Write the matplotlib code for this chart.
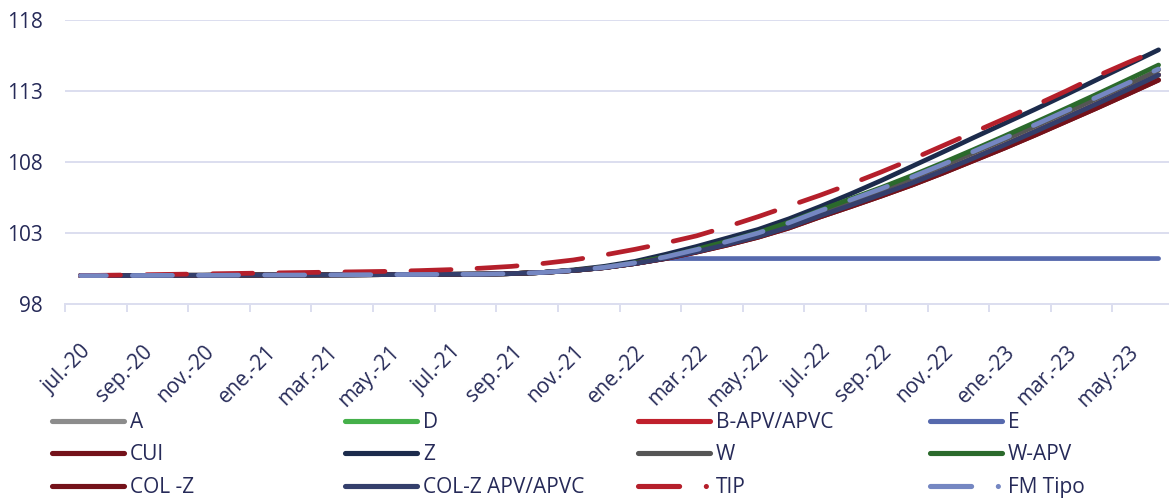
import numpy as np
import matplotlib
matplotlib.use("Agg")
import matplotlib.pyplot as plt

plt.rcParams['font.family'] = ['Open Sans', 'DejaVu Sans']

# monthly categories jul-20 .. jun-23
months = ['jul.-20', 'ago.-20', 'sep.-20', 'oct.-20', 'nov.-20', 'dic.-20',
          'ene.-21', 'feb.-21', 'mar.-21', 'abr.-21', 'may.-21', 'jun.-21',
          'jul.-21', 'ago.-21', 'sep.-21', 'oct.-21', 'nov.-21', 'dic.-21',
          'ene.-22', 'feb.-22', 'mar.-22', 'abr.-22', 'may.-22', 'jun.-22',
          'jul.-22', 'ago.-22', 'sep.-22', 'oct.-22', 'nov.-22', 'dic.-22',
          'ene.-23', 'feb.-23', 'mar.-23', 'abr.-23', 'may.-23', 'jun.-23']

early = [100.0, 100.0, 100.01, 100.02, 100.02, 100.03, 100.04, 100.04, 100.05,
         100.06, 100.07, 100.08, 100.09, 100.1, 100.14, 100.22]

colz_apv = early + [100.36, 100.56, 100.85, 101.22, 101.68, 102.2, 102.75, 103.42,
                    104.2, 104.95, 105.72, 106.52, 107.38, 108.28, 109.2, 110.15,
                    111.12, 112.1, 113.1, 114.13]
fm_tipo = early + [100.37, 100.58, 100.9, 101.32, 101.83, 102.4, 103.0, 103.72,
                   104.55, 105.33, 106.12, 106.95, 107.83, 108.75, 109.68, 110.63,
                   111.6, 112.57, 113.56, 114.55]
w_apv = early + [100.37, 100.58, 100.9, 101.32, 101.85, 102.42, 103.03, 103.76,
                 104.6, 105.4, 106.2, 107.05, 107.95, 108.88, 109.83, 110.8,
                 111.78, 112.78, 113.8, 114.83]
w = early + [100.36, 100.57, 100.88, 101.3, 101.8, 102.36, 102.95, 103.65,
             104.47, 105.25, 106.04, 106.86, 107.73, 108.65, 109.57, 110.52,
             111.49, 112.47, 113.46, 114.48]
cui = early + [100.36, 100.56, 100.85, 101.2, 101.65, 102.15, 102.7, 103.35,
               104.12, 104.85, 105.6, 106.38, 107.22, 108.1, 108.98, 109.9,
               110.85, 111.8, 112.78, 113.77]
col_z = cui
z = early + [100.4, 100.65, 101.0, 101.5, 102.05, 102.65, 103.25, 104.0,
             104.85, 105.75, 106.7, 107.7, 108.7, 109.72, 110.72, 111.72,
             112.75, 113.8, 114.85, 115.9]
tip = [100.0, 100.03, 100.06, 100.09, 100.12, 100.15, 100.18, 100.21, 100.24,
       100.27, 100.3, 100.35, 100.42, 100.52, 100.65, 100.85, 101.1, 101.45,
       101.85, 102.3, 102.8, 103.45, 104.15, 104.9, 105.65, 106.45, 107.3,
       108.2, 109.15, 110.1, 111.05, 112.0, 113.0, 114.05, 115.0, 115.9]
e = early + [100.36, 100.56, 100.85] + [101.2] * 17
a = colz_apv
d = colz_apv
b_apv = colz_apv

series = [
    ('A', a, '#8c8c8c', 'solid'),
    ('D', d, '#45b04a', 'solid'),
    ('B-APV/APVC', b_apv, '#c0202c', 'solid'),
    ('E', e, '#5669ad', 'solid'),
    ('CUI', cui, '#74121a', 'solid'),
    ('Z', z, '#1c2b4c', 'solid'),
    ('W', w, '#555555', 'solid'),
    ('W-APV', w_apv, '#2b6a2c', 'solid'),
    ('COL -Z', col_z, '#74121a', 'solid'),
    ('COL-Z APV/APVC', colz_apv, '#343f6c', 'solid'),
    ('TIP', tip, '#b51f2b', (0, (8.5, 5.5))),
    ('FM Tipo', fm_tipo, '#7587c2', (3, (8.5, 5.5))),
]

text_col = '#262a58'
grid_col = '#dcdeef'

fig = plt.figure(figsize=(11.69, 4.98), dpi=100)
ax = fig.add_axes([65 / 1169, 194 / 498, 1109 / 1169, 284 / 498])

x = np.arange(len(months))
lines = []
for name, vals, col, ls in series:
    ln, = ax.plot(x, vals, color=col, lw=3.4, linestyle=ls,
                  solid_capstyle='round', dash_capstyle='round', label=name)
    lines.append(ln)

ax.set_xlim(-0.5, len(months) - 0.5)
ax.set_ylim(98, 118)
ax.set_yticks([98, 103, 108, 113, 118])
ax.yaxis.grid(True, color=grid_col, lw=1.4)
ax.set_axisbelow(True)
for s in ['top', 'right', 'left']:
    ax.spines[s].set_visible(False)
ax.spines['bottom'].set_color(grid_col)
ax.spines['bottom'].set_linewidth(1.4)
ax.tick_params(axis='y', length=0, pad=16, labelsize=15, labelcolor=text_col)

ax.set_xticks(np.arange(-0.5, len(months), 2))
ax.set_xticklabels([])
ax.tick_params(axis='x', which='major', length=5.5, width=1.4, color=grid_col)
ax.set_xticks(x[::2], minor=True)
ax.set_xticklabels(months[::2], minor=True, rotation=45, ha='right', va='top',
                   rotation_mode='anchor', fontsize=15, color=text_col)
ax.tick_params(axis='x', which='minor', length=0, pad=27)

# legend: four columns, three rows
col_x = [52, 345, 638, 930]
for c in range(4):
    hs = [lines[r * 4 + c] for r in range(3)]
    leg = fig.legend(hs, [h.get_label() for h in hs], loc='upper left',
                     bbox_to_anchor=(col_x[c] / 1169, 1 - 412 / 498),
                     frameon=False, fontsize=15, handlelength=3.45,
                     handletextpad=0.3, borderpad=0, borderaxespad=0,
                     labelspacing=0.55, labelcolor=text_col)
    for lh in leg.get_lines():
        lh.set_linewidth(3.7)
        if lh.get_linestyle() != '-':
            lh.set_linestyle((0, (8.0, 5.2, 0.01, 30)))

fig.savefig('out.png', dpi=100)
